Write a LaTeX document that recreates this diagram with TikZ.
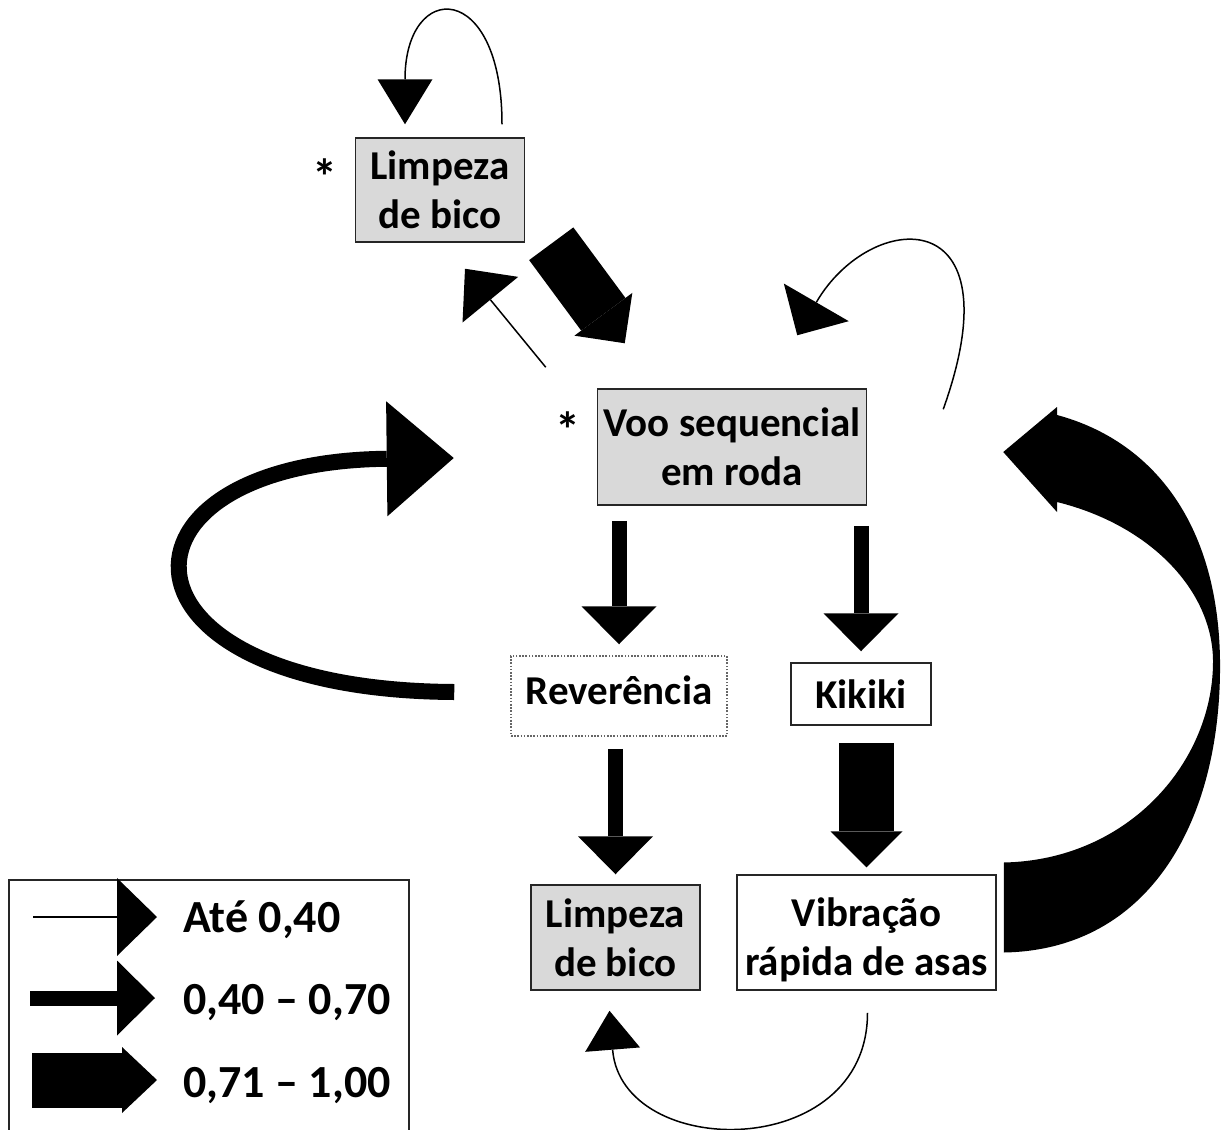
\documentclass[tikz,border=0pt]{standalone}
\usepackage{fontspec}
\setmainfont{Carlito}
\usetikzlibrary{arrows.meta,calc}

\begin{document}
\begin{tikzpicture}[x=0.5pt,y=-0.5pt]
   \useasboundingbox (0,0) rectangle (1222,1130);
   \tikzset{every node/.style = {font=\fontsize{20.5}{24.5}\selectfont\bfseries, inner sep=0pt, align=center}}
   \tikzset{BoxStyle/.style = {shape=rectangle, draw=black!85, line width=0.75pt, fill=white}}
   \tikzset{GreyBox/.style = {BoxStyle, fill=black!15}}
   \tikzset{EdgeThin/.style = {line width=0.75pt, -{Triangle[length=20pt,width=36pt,line width=0pt]}}}
   \tikzset{EdgeMid/.style = {line width=7.5pt, -{Triangle[length=19pt,width=37.5pt,line width=0pt]}}}
   \tikzset{EdgeThick/.style = {line width=27.5pt, -{Triangle[length=18pt,width=36pt,line width=0pt]}}}

   \node[GreyBox, minimum width=84.5pt, minimum height=52pt] (LbA) at (440,190) {Limpeza\\de bico};
   \node[font=\fontsize{25}{30}\selectfont\bfseries] (AstA) at (325,177) {*};
   \node[GreyBox, minimum width=134.5pt, minimum height=58pt] (Voo) at (732,447) {Voo sequencial\\em roda};
   \node[font=\fontsize{25}{30}\selectfont\bfseries] (AstB) at (568,430) {*};
   \node[BoxStyle, draw=black!60, dash pattern=on 0.8pt off 0.8pt, minimum width=108pt, minimum height=40pt] (Rev) at (619,696) {Reverência\rule[-6pt]{0pt}{6pt}};
   \node[BoxStyle, minimum width=70pt, minimum height=31pt] (Kik) at (861,694) {Kikiki};
   \node[GreyBox, minimum width=84.5pt, minimum height=52.5pt] (LbB) at (615.5,937.5) {Limpeza\\de bico};
   \node[BoxStyle, minimum width=129.5pt, minimum height=57.5pt] (Vib) at (866.5,932.5) {\rule{0pt}{21.5pt}Vibração\\rápida de asas};

   \draw[EdgeThin, -{Triangle[length=22.5pt,width=27.5pt,line width=0pt]}] ($(LbA.north)+(62,-13)$) .. controls +(0,-145) and +(0,-145) .. ($(LbA.north)+(-35,-13)$);
   \draw[EdgeThick] ($(LbA.south east)+(26,1)$) -- ($(Voo.north west)+(28,-45)$);
   \draw[EdgeThin] ($(Voo.north west)+(-51,-21)$) -- ($(LbA.south)+(25,26)$);
   \draw[EdgeThin, -{Triangle[length=19pt,width=37.5pt,line width=0pt]}] ($(Voo.north east)+(76,21)$) .. controls +(75,-210) and +(73,-126) .. ($(Voo.north east)+(-70,-53)$);
   \draw[EdgeMid] ($(Rev.north |- Voo.south)+(0,15)$) -- ($(Rev.north)+(0,-11)$);
   \draw[EdgeMid] ($(Kik.north |- Voo.south)+(0,20)$) -- ($(Kik.north)+(0,-11)$);
   \draw[EdgeMid] ($(LbB.north |- Rev.south)+(0,12)$) -- ($(LbB.north)+(0,-10)$);
   \draw[EdgeThick] ($(Vib.north |- Kik.south)+(0,17)$) -- ($(Vib.north)+(0,-7)$);
   \draw[EdgeMid, line width=8pt, -{Triangle[length=33.5pt,width=57.5pt,line width=0pt]}] ($(Rev.west)+(-56,-4)$) .. controls +(-355,-2) and +(-355,4) .. ($(Voo.west)+(-143,11)$);
%   big curved arrow back to Voo
   \fill ($(Vib.east)+(7,20)$) .. controls (1150,950) and (1222,820) .. (1220,660)
      .. controls (1218,520) and (1150,440) .. (1057,415) -- (1057,407) -- ($(Voo.east)+(136,5)$) -- (1057,512) -- (1057,502)
      .. controls (1150,525) and (1212,590) .. (1213,660)
      .. controls (1214,760) and (1130,860) .. ($(Vib.east)+(7,-70)$) -- cycle;
   \draw[EdgeThin, -{Triangle[length=19.5pt,width=27.5pt,line width=0pt]}] ($(Vib.south)+(1,22)$) .. controls +(0,150) and +(12,150) .. ($(LbB.south)+(-6,20)$);

   \draw[line width=0.75pt, draw=black!85] (9,1131) |- (409,880) -- (409,1131);
   \draw[EdgeThin, -{Triangle[length=20pt,width=39pt,line width=0pt]}] (33,917) -- (157,917);
   \draw[EdgeMid] (30,998) -- (155,998);
   \draw[EdgeThick, -{Triangle[length=17.5pt,width=33pt,line width=0pt]}] (32,1080) -- (157,1080);
   \node[anchor=base west, font=\fontsize{23}{27}\selectfont\bfseries] (LegA) at (183,932) {Até 0,40};
   \node[anchor=base west, font=\fontsize{23}{27}\selectfont\bfseries] (LegB) at (183,1014) {0,40 – 0,70};
   \node[anchor=base west, font=\fontsize{23}{27}\selectfont\bfseries] (LegC) at (183,1097) {0,71 – 1,00};
\end{tikzpicture}
\end{document}
